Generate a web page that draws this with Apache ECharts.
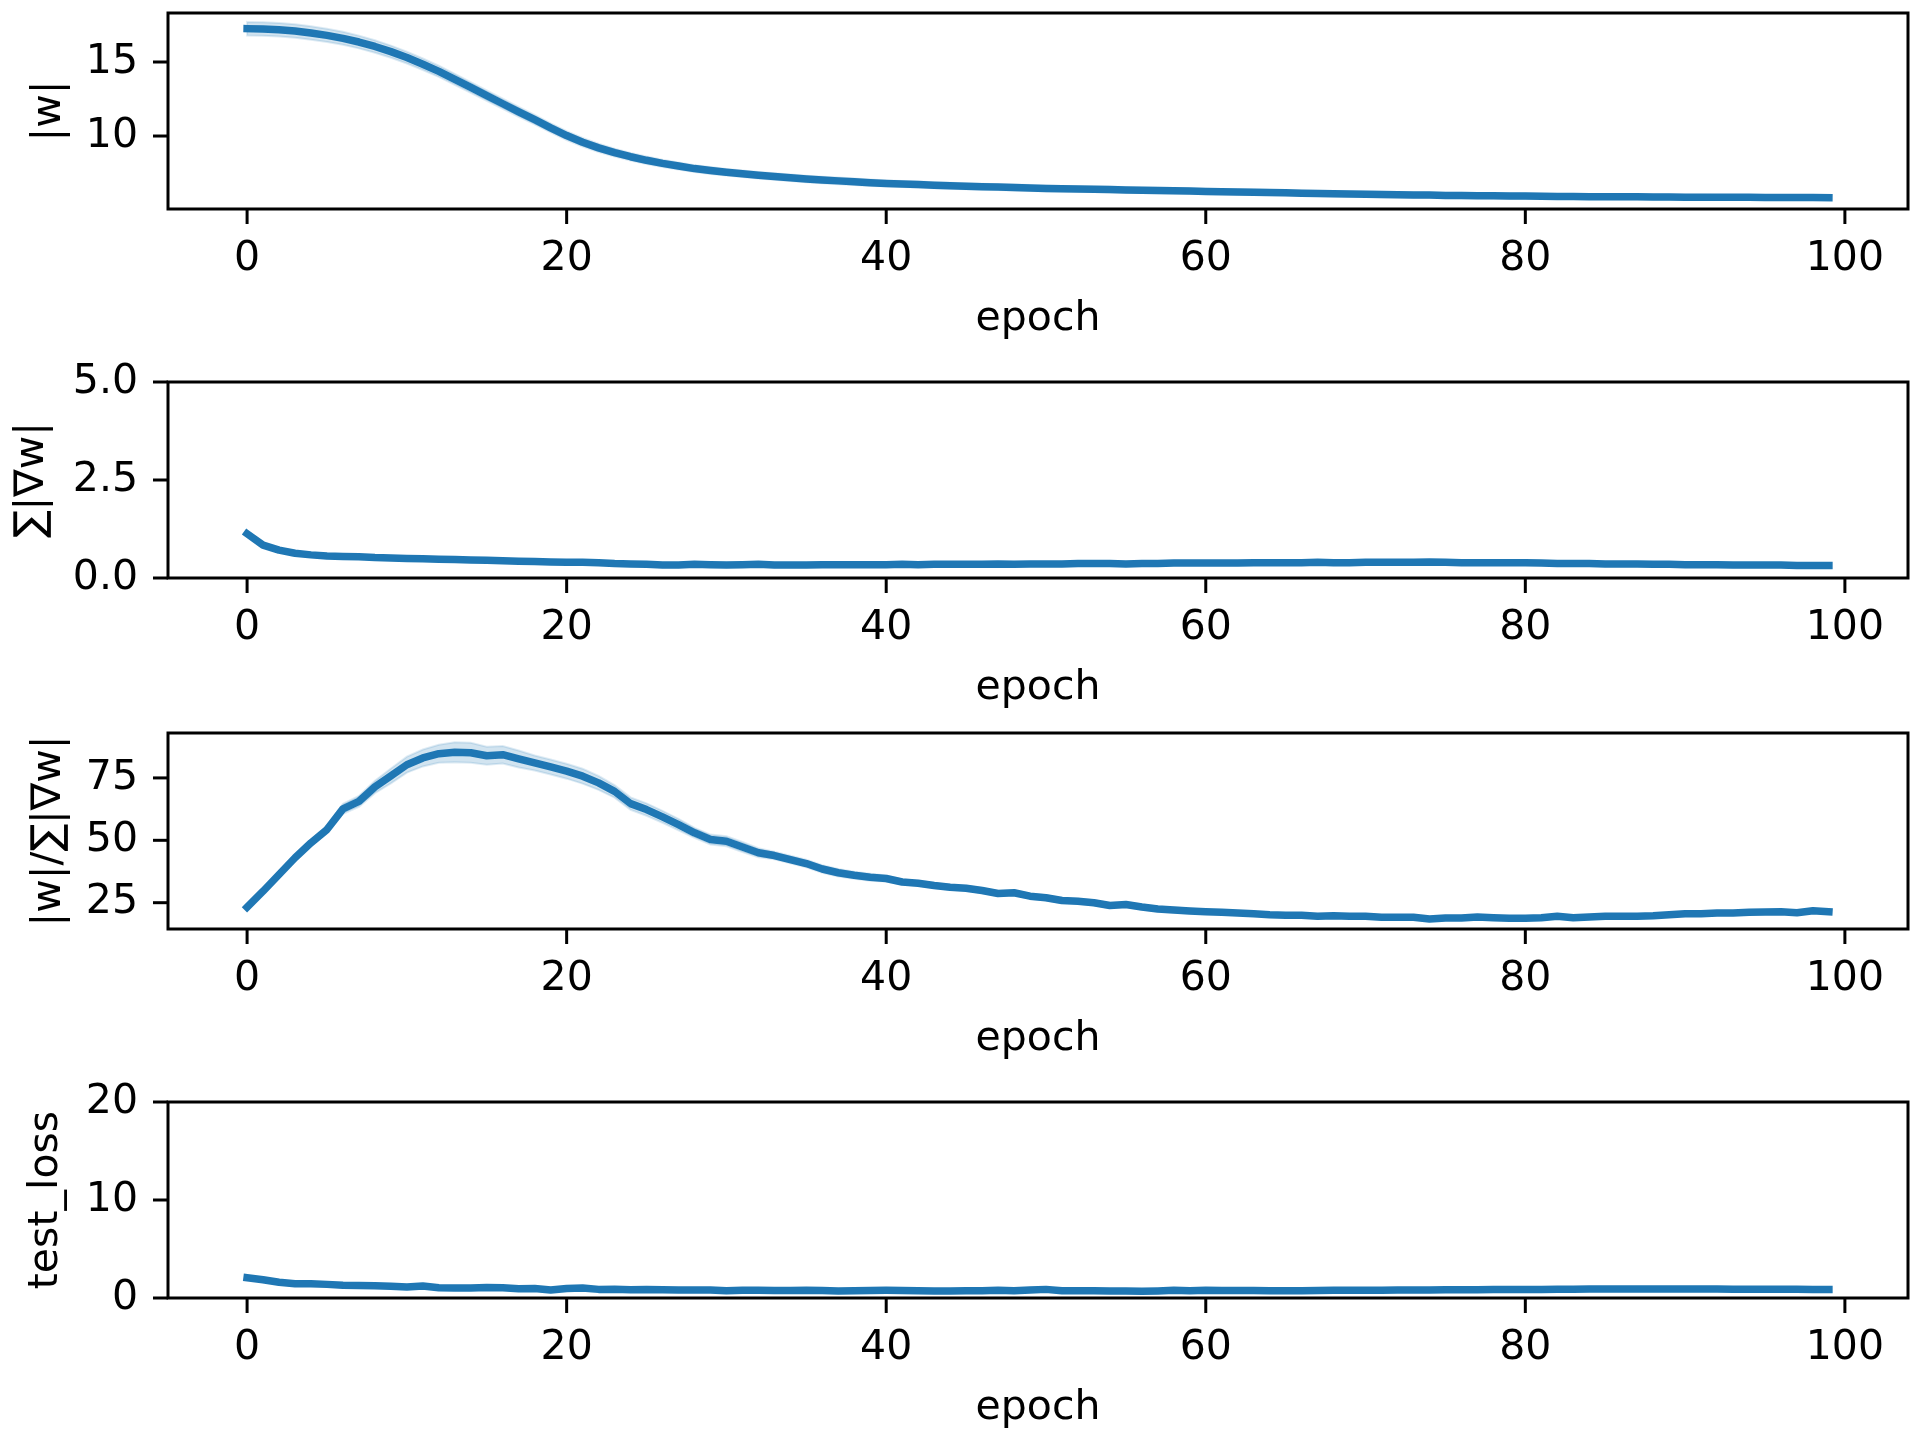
<!DOCTYPE html>
<html>
<head>
<meta charset="utf-8">
<script src="https://cdn.jsdelivr.net/npm/echarts@6/dist/echarts.min.js"></script>
<style>
  html, body { margin: 0; padding: 0; background: #fff; }
  #main { width: 1920px; height: 1440px; }
</style>
</head>
<body>
<div id="main"></div>
<script>
// epochs 0..99
const epochs = [];
for (let i = 0; i < 100; i++) epochs.push(i);

// |w| mean and band half-width
const wNorm = [17.25,17.23,17.18,17.09,16.96,16.8,16.6,16.35,16.05,15.7,
  15.3,14.85,14.37,13.83,13.28,12.73,12.18,11.63,11.1,10.55,
  10.03,9.58,9.2,8.88,8.6,8.36,8.15,7.97,7.8,7.67,
  7.55,7.45,7.35,7.26,7.18,7.1,7.03,6.97,6.91,6.85,
  6.8,6.76,6.72,6.68,6.64,6.61,6.58,6.55,6.52,6.49,
  6.46,6.44,6.42,6.4,6.38,6.36,6.34,6.32,6.3,6.28,
  6.26,6.24,6.22,6.2,6.18,6.16,6.14,6.12,6.1,6.08,
  6.07,6.05,6.04,6.02,6.01,5.99,5.98,5.97,5.96,5.95,
  5.94,5.93,5.92,5.91,5.9,5.9,5.89,5.89,5.88,5.88,
  5.87,5.87,5.86,5.86,5.86,5.85,5.85,5.85,5.85,5.84];
const wSpread = [0.46,0.46,0.46,0.46,0.45,0.45,0.44,0.43,0.42,0.41,
  0.4,0.39,0.38,0.37,0.36,0.35,0.34,0.33,0.32,0.31,
  0.3,0.29,0.28,0.27,0.26,0.25,0.24,0.24,0.23,0.23,
  0.22,0.22,0.22,0.22,0.22,0.22,0.22,0.22,0.22,0.22,
  0.2,0.2,0.2,0.2,0.2,0.2,0.2,0.2,0.2,0.2,
  0.19,0.19,0.19,0.19,0.19,0.19,0.19,0.19,0.19,0.19,
  0.18,0.18,0.18,0.18,0.18,0.18,0.18,0.18,0.18,0.18,
  0.18,0.18,0.18,0.18,0.18,0.18,0.18,0.18,0.18,0.18,
  0.17,0.17,0.17,0.17,0.17,0.17,0.17,0.17,0.17,0.17,
  0.16,0.16,0.16,0.16,0.16,0.16,0.16,0.16,0.16,0.16];

// sum |grad w|
const gradSum = [1.13,0.84,0.71,0.63,0.59,0.56,0.55,0.54,0.52,0.51,
  0.5,0.49,0.48,0.47,0.46,0.45,0.44,0.43,0.42,0.41,
  0.4,0.4,0.39,0.37,0.36,0.35,0.33,0.33,0.35,0.34,
  0.33,0.34,0.35,0.33,0.33,0.33,0.34,0.34,0.34,0.34,
  0.34,0.35,0.34,0.35,0.35,0.35,0.35,0.36,0.35,0.36,
  0.36,0.36,0.37,0.37,0.37,0.36,0.37,0.37,0.38,0.38,
  0.38,0.38,0.38,0.39,0.39,0.39,0.39,0.4,0.39,0.39,
  0.4,0.4,0.4,0.4,0.41,0.4,0.39,0.39,0.39,0.39,
  0.39,0.38,0.37,0.37,0.37,0.36,0.36,0.36,0.35,0.35,
  0.34,0.34,0.34,0.33,0.33,0.33,0.33,0.32,0.32,0.32];

// |w| / sum|grad w| mean and band half-width
const ratio = [23.2,29.6,36.3,43,49,54.3,62.6,65.6,71.4,75.8,
  80.3,83,84.7,85.3,85.1,83.9,84.3,82.6,81,79.4,
  77.7,75.7,73,69.6,64.7,62.3,59.4,56.3,53,50.3,
  49.6,47.3,45,43.9,42.3,40.7,38.5,37,36,35.2,
  34.7,33.3,32.8,31.9,31.2,30.8,29.9,28.7,29,27.6,
  27,25.9,25.6,25,23.9,24.3,23.3,22.5,22.1,21.7,
  21.4,21.2,20.9,20.6,20.2,20,20,19.6,19.8,19.6,
  19.6,19.2,19.2,19.2,18.5,18.9,18.9,19.3,19,18.8,
  18.8,19,19.6,19,19.3,19.6,19.6,19.6,19.8,20.2,
  20.6,20.6,20.9,20.9,21.2,21.3,21.4,21,21.8,21.4];
const ratioSpread = [0.5,1,1,1,1.2,1.5,2,2.2,2.5,3,
  3.2,3.4,3.6,4,4,3.6,3.5,3.4,3,3,
  3,3,2.8,2.5,2.5,2.5,2.4,2.3,2,2,
  2,2,1.8,1.5,1.5,1.5,1.5,1.5,1.4,1.4,
  1.2,1,1,1,1,1,1,1,1,1,
  1,1,1,1,1,1,1,1,1,1,
  0.8,0.7,0.7,0.7,0.7,0.7,0.7,0.7,0.7,0.7,
  0.7,0.7,0.7,0.7,0.7,0.7,0.7,0.7,0.7,0.7,
  0.7,0.7,0.7,0.7,0.7,0.7,0.7,0.7,0.7,0.7,
  0.7,0.7,0.7,0.7,0.7,0.7,0.7,0.7,0.7,0.7];

// test loss
const testLoss = [2.07,1.86,1.6,1.46,1.46,1.39,1.29,1.27,1.25,1.19,
  1.12,1.22,1.05,1.02,1.02,1.08,1.05,0.95,0.98,0.81,
  0.98,1.02,0.88,0.9,0.85,0.88,0.85,0.82,0.82,0.82,
  0.75,0.78,0.78,0.77,0.76,0.78,0.76,0.72,0.74,0.77,
  0.78,0.76,0.74,0.72,0.71,0.74,0.74,0.78,0.74,0.81,
  0.88,0.74,0.74,0.74,0.72,0.71,0.68,0.72,0.78,0.74,
  0.78,0.76,0.76,0.76,0.75,0.74,0.74,0.76,0.78,0.8,
  0.8,0.8,0.82,0.82,0.82,0.85,0.85,0.85,0.86,0.87,
  0.88,0.88,0.9,0.9,0.92,0.92,0.92,0.92,0.92,0.92,
  0.92,0.91,0.91,0.9,0.9,0.9,0.89,0.89,0.88,0.88];

const xTicks = [0, 20, 40, 60, 80, 100];
const xMin = -4.95, xMax = 103.95;
const panels = [
  { name: '|w|', top: 13, min: 5.07, max: 18.31, ticks: [10, 15], dec: 0, data: wNorm, spread: wSpread, gap: 98 },
  { name: '∑|∇w|', top: 382, min: 0, max: 5, ticks: [0, 2.5, 5], dec: 1, data: gradSum, spread: null, gap: 115 },
  { name: '|w|/∑|∇w|', top: 733, min: 14.46, max: 93, ticks: [25, 50, 75], dec: 0, data: ratio, spread: ratioSpread, gap: 98 },
  { name: 'test_loss', top: 1102, min: 0, max: 20, ticks: [0, 10, 20], dec: 0, data: testLoss, spread: null, gap: 101 }
];

const blue = '#1f77b4';
const font = 'DejaVu Sans';
const fs = 41;
const tickLen = 15;

// confidence band as one polygon drawn through the axes' coord()
function bandSeries(i, mean, spread) {
  const rows = mean.map((v, k) => [epochs[k], v - spread[k], v + spread[k]]);
  return {
    type: 'custom', xAxisIndex: i, yAxisIndex: i, silent: true, z: 1,
    data: rows,
    encode: { x: 0, y: [1, 2] },
    renderItem: (params, api) => {
      if (params.dataIndex !== 0) return null;
      const top = rows.map(r => api.coord([r[0], r[2]]));
      const bot = rows.map(r => api.coord([r[0], r[1]])).reverse();
      return {
        type: 'polygon',
        shape: { points: top.concat(bot) },
        style: { fill: 'rgba(31,119,180,0.2)', stroke: 'rgba(31,119,180,0.15)', lineWidth: 2 }
      };
    }
  };
}

const grid = [], xAxis = [], yAxis = [], series = [];
panels.forEach((p, i) => {
  grid.push({ left: 168, width: 1740, top: p.top, height: 196, show: true,
    borderColor: '#000', borderWidth: 3, backgroundColor: 'transparent' });
  xAxis.push({
    type: 'value', gridIndex: i, min: xMin, max: xMax,
    name: 'epoch', nameLocation: 'middle', nameGap: 90,
    nameTextStyle: { color: '#000', fontSize: fs, fontFamily: font },
    axisLine: { show: false, onZero: false },
    axisTick: { show: false },
    axisLabel: { color: '#000', fontSize: fs, fontFamily: font, margin: 30, customValues: xTicks },
    splitLine: { show: false }
  });
  yAxis.push({
    type: 'value', gridIndex: i, min: p.min, max: p.max,
    name: p.name, nameLocation: 'middle', nameRotate: 90, nameGap: p.gap,
    nameTextStyle: { color: '#000', fontSize: fs, fontFamily: font },
    axisLine: { show: false, onZero: false },
    axisTick: { show: false },
    axisLabel: { color: '#000', fontSize: fs, fontFamily: font, margin: 30, customValues: p.ticks,
      formatter: v => v.toFixed(p.dec) },
    splitLine: { show: false }
  });
  if (p.spread) series.push(bandSeries(i, p.data, p.spread));
  series.push({
    type: 'line', xAxisIndex: i, yAxisIndex: i, z: 3,
    data: p.data.map((v, k) => [epochs[k], v]),
    symbol: 'none', lineStyle: { color: blue, width: 7.5, cap: 'square', join: 'round' }
  });
});

const chart = echarts.init(document.getElementById('main'));
chart.setOption({ animation: false, backgroundColor: '#fff', grid, xAxis, yAxis, series });

// outward tick marks, placed with the chart's own scales
const ticks = [];
function addTick(i, value, onX) {
  const finder = { xAxisIndex: i, yAxisIndex: i };
  const pt = chart.convertToPixel(finder, onX ? [value, panels[i].min] : [xMin, value]);
  if (!pt || isNaN(pt[0]) || isNaN(pt[1])) return;
  const shape = onX
    ? { x1: pt[0], y1: pt[1], x2: pt[0], y2: pt[1] + tickLen }
    : { x1: pt[0] - tickLen, y1: pt[1], x2: pt[0], y2: pt[1] };
  ticks.push({ type: 'line', z: 100, silent: true, shape, style: { stroke: '#000', lineWidth: 3 } });
}
panels.forEach((p, i) => {
  xTicks.forEach(t => addTick(i, t, true));
  p.ticks.forEach(v => addTick(i, v, false));
});
chart.setOption({ graphic: { elements: ticks } });
</script>
</body>
</html>
